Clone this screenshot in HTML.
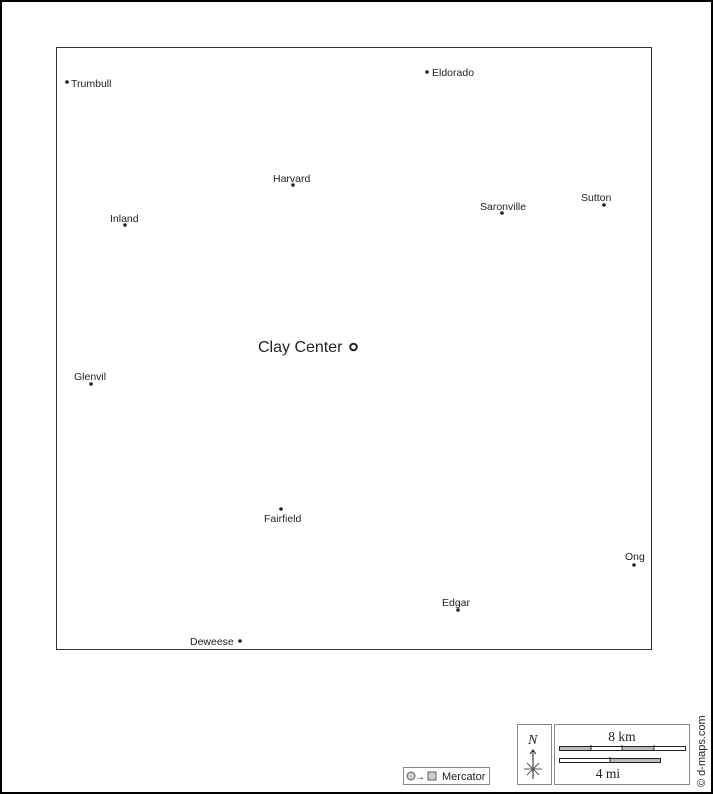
<!DOCTYPE html>
<html><head><meta charset="utf-8"><style>
html,body{margin:0;padding:0;background:#fff}
svg{display:block}
text{font-family:"Liberation Sans",sans-serif;fill:#222}
</style></head><body>
<svg width="713" height="794" viewBox="0 0 713 794" xmlns="http://www.w3.org/2000/svg">
<rect x="1" y="1" width="711" height="792" fill="#fff" stroke="#000" stroke-width="2"/>
<rect x="56.5" y="47.5" width="595" height="602" fill="#fff" stroke="#333" stroke-width="1"/>
<g font-size="10.5">
<circle cx="67" cy="82" r="1.8" fill="#222"/><text x="71" y="87">Trumbull</text>
<circle cx="427" cy="72" r="1.8" fill="#222"/><text x="432" y="76">Eldorado</text>
<circle cx="293" cy="185" r="1.8" fill="#222"/><text x="273" y="182">Harvard</text>
<circle cx="125" cy="225" r="1.8" fill="#222"/><text x="110" y="222">Inland</text>
<circle cx="502" cy="213" r="1.8" fill="#222"/><text x="480" y="210">Saronville</text>
<circle cx="604" cy="205" r="1.8" fill="#222"/><text x="581" y="201">Sutton</text>
<circle cx="91" cy="384" r="1.8" fill="#222"/><text x="74" y="380">Glenvil</text>
<circle cx="281" cy="509" r="1.8" fill="#222"/><text x="264" y="522">Fairfield</text>
<circle cx="634" cy="565" r="1.8" fill="#222"/><text x="625" y="560">Ong</text>
<circle cx="458" cy="610" r="1.8" fill="#222"/><text x="442" y="606">Edgar</text>
<circle cx="240" cy="641" r="1.8" fill="#222"/><text x="190" y="645">Deweese</text>
</g>
<text x="258" y="352" font-size="16">Clay Center</text>
<circle cx="353.5" cy="347" r="3.3" fill="#fff" stroke="#222" stroke-width="2"/>
<rect x="403.5" y="767.5" width="86" height="17" fill="#fff" stroke="#888"/>
<circle cx="411" cy="776" r="4" fill="#ccc" stroke="#666"/>
<text x="415" y="780" font-size="10">→</text>
<rect x="428" y="772" width="8" height="8" fill="#ccc" stroke="#666"/>
<text x="442" y="780" font-size="11">Mercator</text>
<rect x="517.5" y="724.5" width="34" height="60" fill="#fff" stroke="#888"/>
<text x="528" y="744" font-size="14" font-style="italic" style="font-family:'Liberation Serif',serif">N</text>
<line x1="533" y1="750" x2="533" y2="779" stroke="#222"/>
<path d="M530 754 L533 750 L536 754" fill="none" stroke="#222"/>
<line x1="524" y1="769" x2="542" y2="769" stroke="#555"/>
<line x1="527" y1="763" x2="539" y2="775" stroke="#555"/>
<line x1="539" y1="763" x2="527" y2="775" stroke="#555"/>
<rect x="554.5" y="724.5" width="135" height="60" fill="#fff" stroke="#888"/>
<text x="622" y="741" font-size="13.5" text-anchor="middle" style="font-family:'Liberation Serif',serif">8 km</text>
<rect x="559.5" y="746.5" width="126" height="4" fill="#fff" stroke="#222"/>
<rect x="560" y="747" width="31" height="3" fill="#bbb"/>
<rect x="622" y="747" width="32" height="3" fill="#bbb"/>
<line x1="591" y1="745" x2="591" y2="751" stroke="#222"/>
<line x1="622" y1="745" x2="622" y2="751" stroke="#222"/>
<line x1="654" y1="745" x2="654" y2="751" stroke="#222"/>
<rect x="559.5" y="758.5" width="101" height="4" fill="#fff" stroke="#222"/>
<rect x="610" y="759" width="50" height="3" fill="#bbb"/>
<line x1="610" y1="757" x2="610" y2="763" stroke="#222"/>
<text x="608" y="778" font-size="13.5" text-anchor="middle" style="font-family:'Liberation Serif',serif">4 mi</text>
<text transform="translate(705,787) rotate(-90)" font-size="11">© d-maps.com</text>
</svg>
</body></html>
